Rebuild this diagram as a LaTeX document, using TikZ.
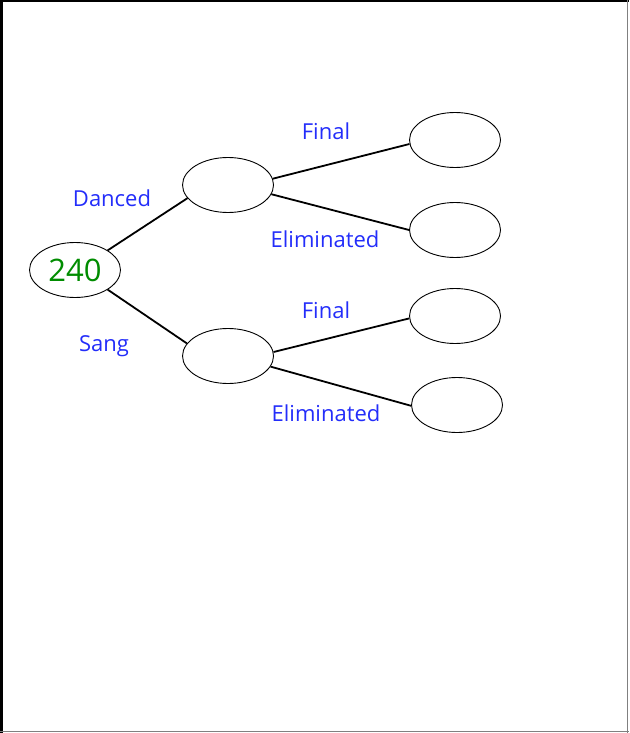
\documentclass[tikz,border=0pt]{standalone}
\usepackage{fontspec}
\setmainfont{Open Sans}
\usetikzlibrary{shapes.geometric}
\definecolor{labelblue}{RGB}{35,45,250}
\definecolor{rootgreen}{RGB}{0,140,0}

\begin{document}
\begin{tikzpicture}[x=0.5pt, y=-0.5pt,
    oval/.style={ellipse, draw, line width=0.45pt, minimum width=45.5pt, minimum height=27.5pt, inner sep=0pt},
    branch/.style={line width=0.9pt},
    lbl/.style={text=labelblue, font=\fontsize{11}{13}\selectfont}]

  % page size and frame
  \useasboundingbox (0,0) rectangle (629,733);
  \draw[line width=1.5pt] (1.5,0) -- (1.5,733);
  \draw[line width=1pt] (0,1) -- (629,1);
  \draw[gray, line width=0.5pt] (627.5,0) -- (627.5,733);
  \draw[gray, line width=0.5pt] (0,731.5) -- (629,731.5);

  % root
  \node[oval, text=rootgreen, font=\fontsize{15.5}{18}\selectfont] (root) at (75,270) {240};

  % first stage
  \node[oval] (danced) at (228,185) {};
  \node[oval] (sang) at (228,356) {};

  % second stage
  \node[oval] (dfinal) at (455,140) {};
  \node[oval] (delim) at (455,230) {};
  \node[oval] (sfinal) at (455,316) {};
  \node[oval] (selim) at (457,405) {};

  % branches
  \draw[branch] (root.31) -- (danced.198);
  \draw[branch] (root.-31) -- (sang.163);
  \draw[branch] (danced.8) -- (dfinal.185);
  \draw[branch] (danced.-12) -- (delim.180);
  \draw[branch] (sang.5) -- (sfinal.183);
  \draw[branch] (sang.-14) -- (selim.181);

  % branch labels
  \node[lbl] (ldanced) at (112,198) {Danced};
  \node[lbl] (lsang) at (104,346) {Sang};
  \node[lbl] (ldfinal) at (326,131) {Final};
  \node[lbl] (ldelim) at (325,239) {Eliminated};
  \node[lbl] (lsfinal) at (326,310) {Final};
  \node[lbl] (lselim) at (326,413) {Eliminated};

\end{tikzpicture}
\end{document}
